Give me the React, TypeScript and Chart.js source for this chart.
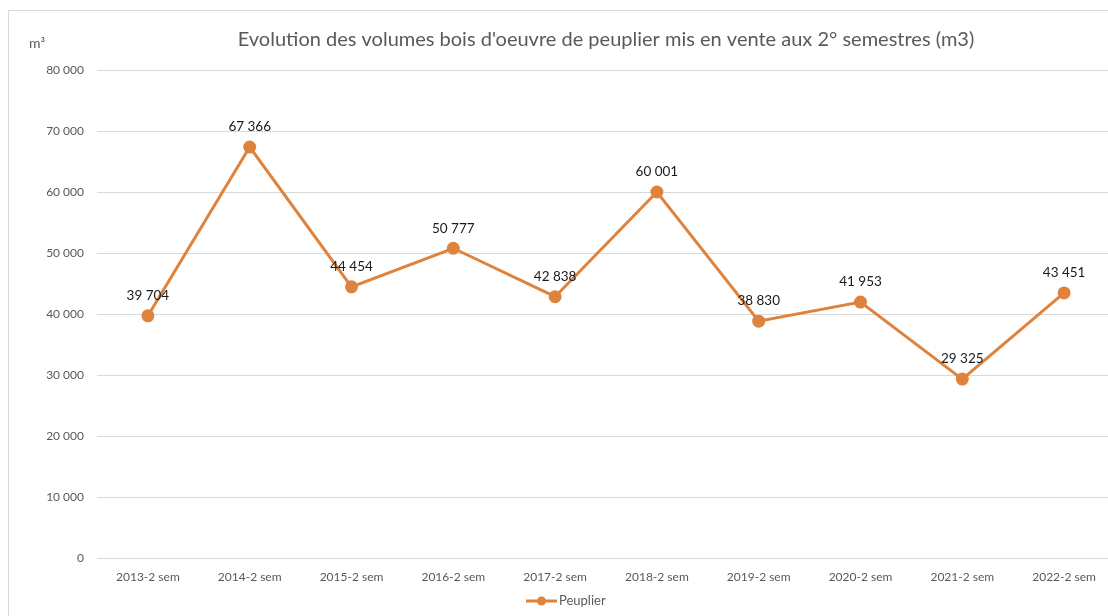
import React, { useEffect, useRef } from "react";
import { Chart, registerables } from "chart.js";

Chart.register(...registerables);

const categories = [
  "2013-2 sem", "2014-2 sem", "2015-2 sem", "2016-2 sem", "2017-2 sem",
  "2018-2 sem", "2019-2 sem", "2020-2 sem", "2021-2 sem", "2022-2 sem",
];
const peuplier = [39704, 67366, 44454, 50777, 42838, 60001, 38830, 41953, 29325, 43451];
const seriesName = "Peuplier";
const titleText = "Evolution des volumes bois d'oeuvre de peuplier mis en vente aux 2° semestres (m3)";
const unitText = "m³";

const FONT = "Lato, 'Open Sans', sans-serif";
const LINE = "#DF823C";
const GRID = "#D9D9D9";
const GRAY = "#595959";

const fmt = (v: number) => String(Math.round(v)).replace(/\B(?=(\d{3})+(?!\d))/g, " ");

const decor = {
  id: "decor",
  afterDatasetsDraw(chart: any) {
    const { ctx, chartArea } = chart;
    ctx.save();
    // title
    ctx.fillStyle = GRAY;
    ctx.font = `20px ${FONT}`;
    ctx.textAlign = "center";
    ctx.textBaseline = "middle";
    ctx.fillText(titleText, (chartArea.left + chartArea.right) / 2, 29);
    // unit
    ctx.font = `14px ${FONT}`;
    ctx.textAlign = "left";
    ctx.fillText(unitText, 20, 32);
    // data labels
    const meta = chart.getDatasetMeta(0);
    ctx.fillStyle = "#1A1A1A";
    ctx.font = `13.5px ${FONT}`;
    ctx.textAlign = "center";
    meta.data.forEach((pt: any, i: number) => {
      ctx.fillText(fmt(peuplier[i]), pt.x, pt.y - 20);
    });
    // legend
    const ly = 590;
    ctx.strokeStyle = LINE;
    ctx.lineWidth = 3;
    ctx.beginPath();
    ctx.moveTo(517, ly);
    ctx.lineTo(548, ly);
    ctx.stroke();
    ctx.fillStyle = LINE;
    ctx.beginPath();
    ctx.arc(532.5, ly, 4.5, 0, Math.PI * 2);
    ctx.fill();
    ctx.fillStyle = GRAY;
    ctx.font = `13px ${FONT}`;
    ctx.textAlign = "left";
    ctx.fillText(seriesName, 550, ly);
    ctx.restore();
  },
};

export default function App() {
  const ref = useRef<HTMLCanvasElement>(null);
  useEffect(() => {
    if (!ref.current) return;
    const chart = new Chart(ref.current, {
      type: "line",
      data: {
        labels: categories,
        datasets: [
          {
            label: seriesName,
            data: peuplier,
            borderColor: LINE,
            backgroundColor: LINE,
            borderWidth: 3,
            pointRadius: 5,
            pointHoverRadius: 5,
            pointBackgroundColor: LINE,
            pointBorderColor: LINE,
            tension: 0,
          },
        ],
      },
      options: {
        responsive: false,
        animation: false,
        layout: { padding: { top: 59, right: 12, bottom: 28, left: 0 } },
        plugins: { legend: { display: false }, title: { display: false }, tooltip: { enabled: false } },
        scales: {
          x: {
            offset: true,
            grid: { display: false },
            border: { display: false },
            ticks: { color: GRAY, font: { family: FONT, size: 12 }, padding: 4, maxRotation: 0 },
            afterFit: (s: any) => { s.height = 30; },
          },
          y: {
            min: 0,
            max: 80000,
            grid: { color: GRID, lineWidth: 1, drawTicks: false },
            border: { display: false },
            ticks: {
              stepSize: 10000,
              color: GRAY,
              font: { family: FONT, size: 12 },
              padding: 13,
              callback: (v: any) => fmt(Number(v)),
            },
            afterFit: (s: any) => { s.width = 88; },
          },
        },
      },
      plugins: [decor],
    });
    return () => chart.destroy();
  }, []);
  return (
    <div
      style={{
        position: "absolute",
        left: 8,
        top: 10,
        width: 1100,
        height: 606,
        overflow: "hidden",
        borderTop: `1px solid ${GRID}`,
        borderLeft: `1px solid ${GRID}`,
        boxSizing: "border-box",
      }}
    >
      <canvas ref={ref} width={1118} height={605} style={{ display: "block", width: 1118, height: 605 }} />
    </div>
  );
}
